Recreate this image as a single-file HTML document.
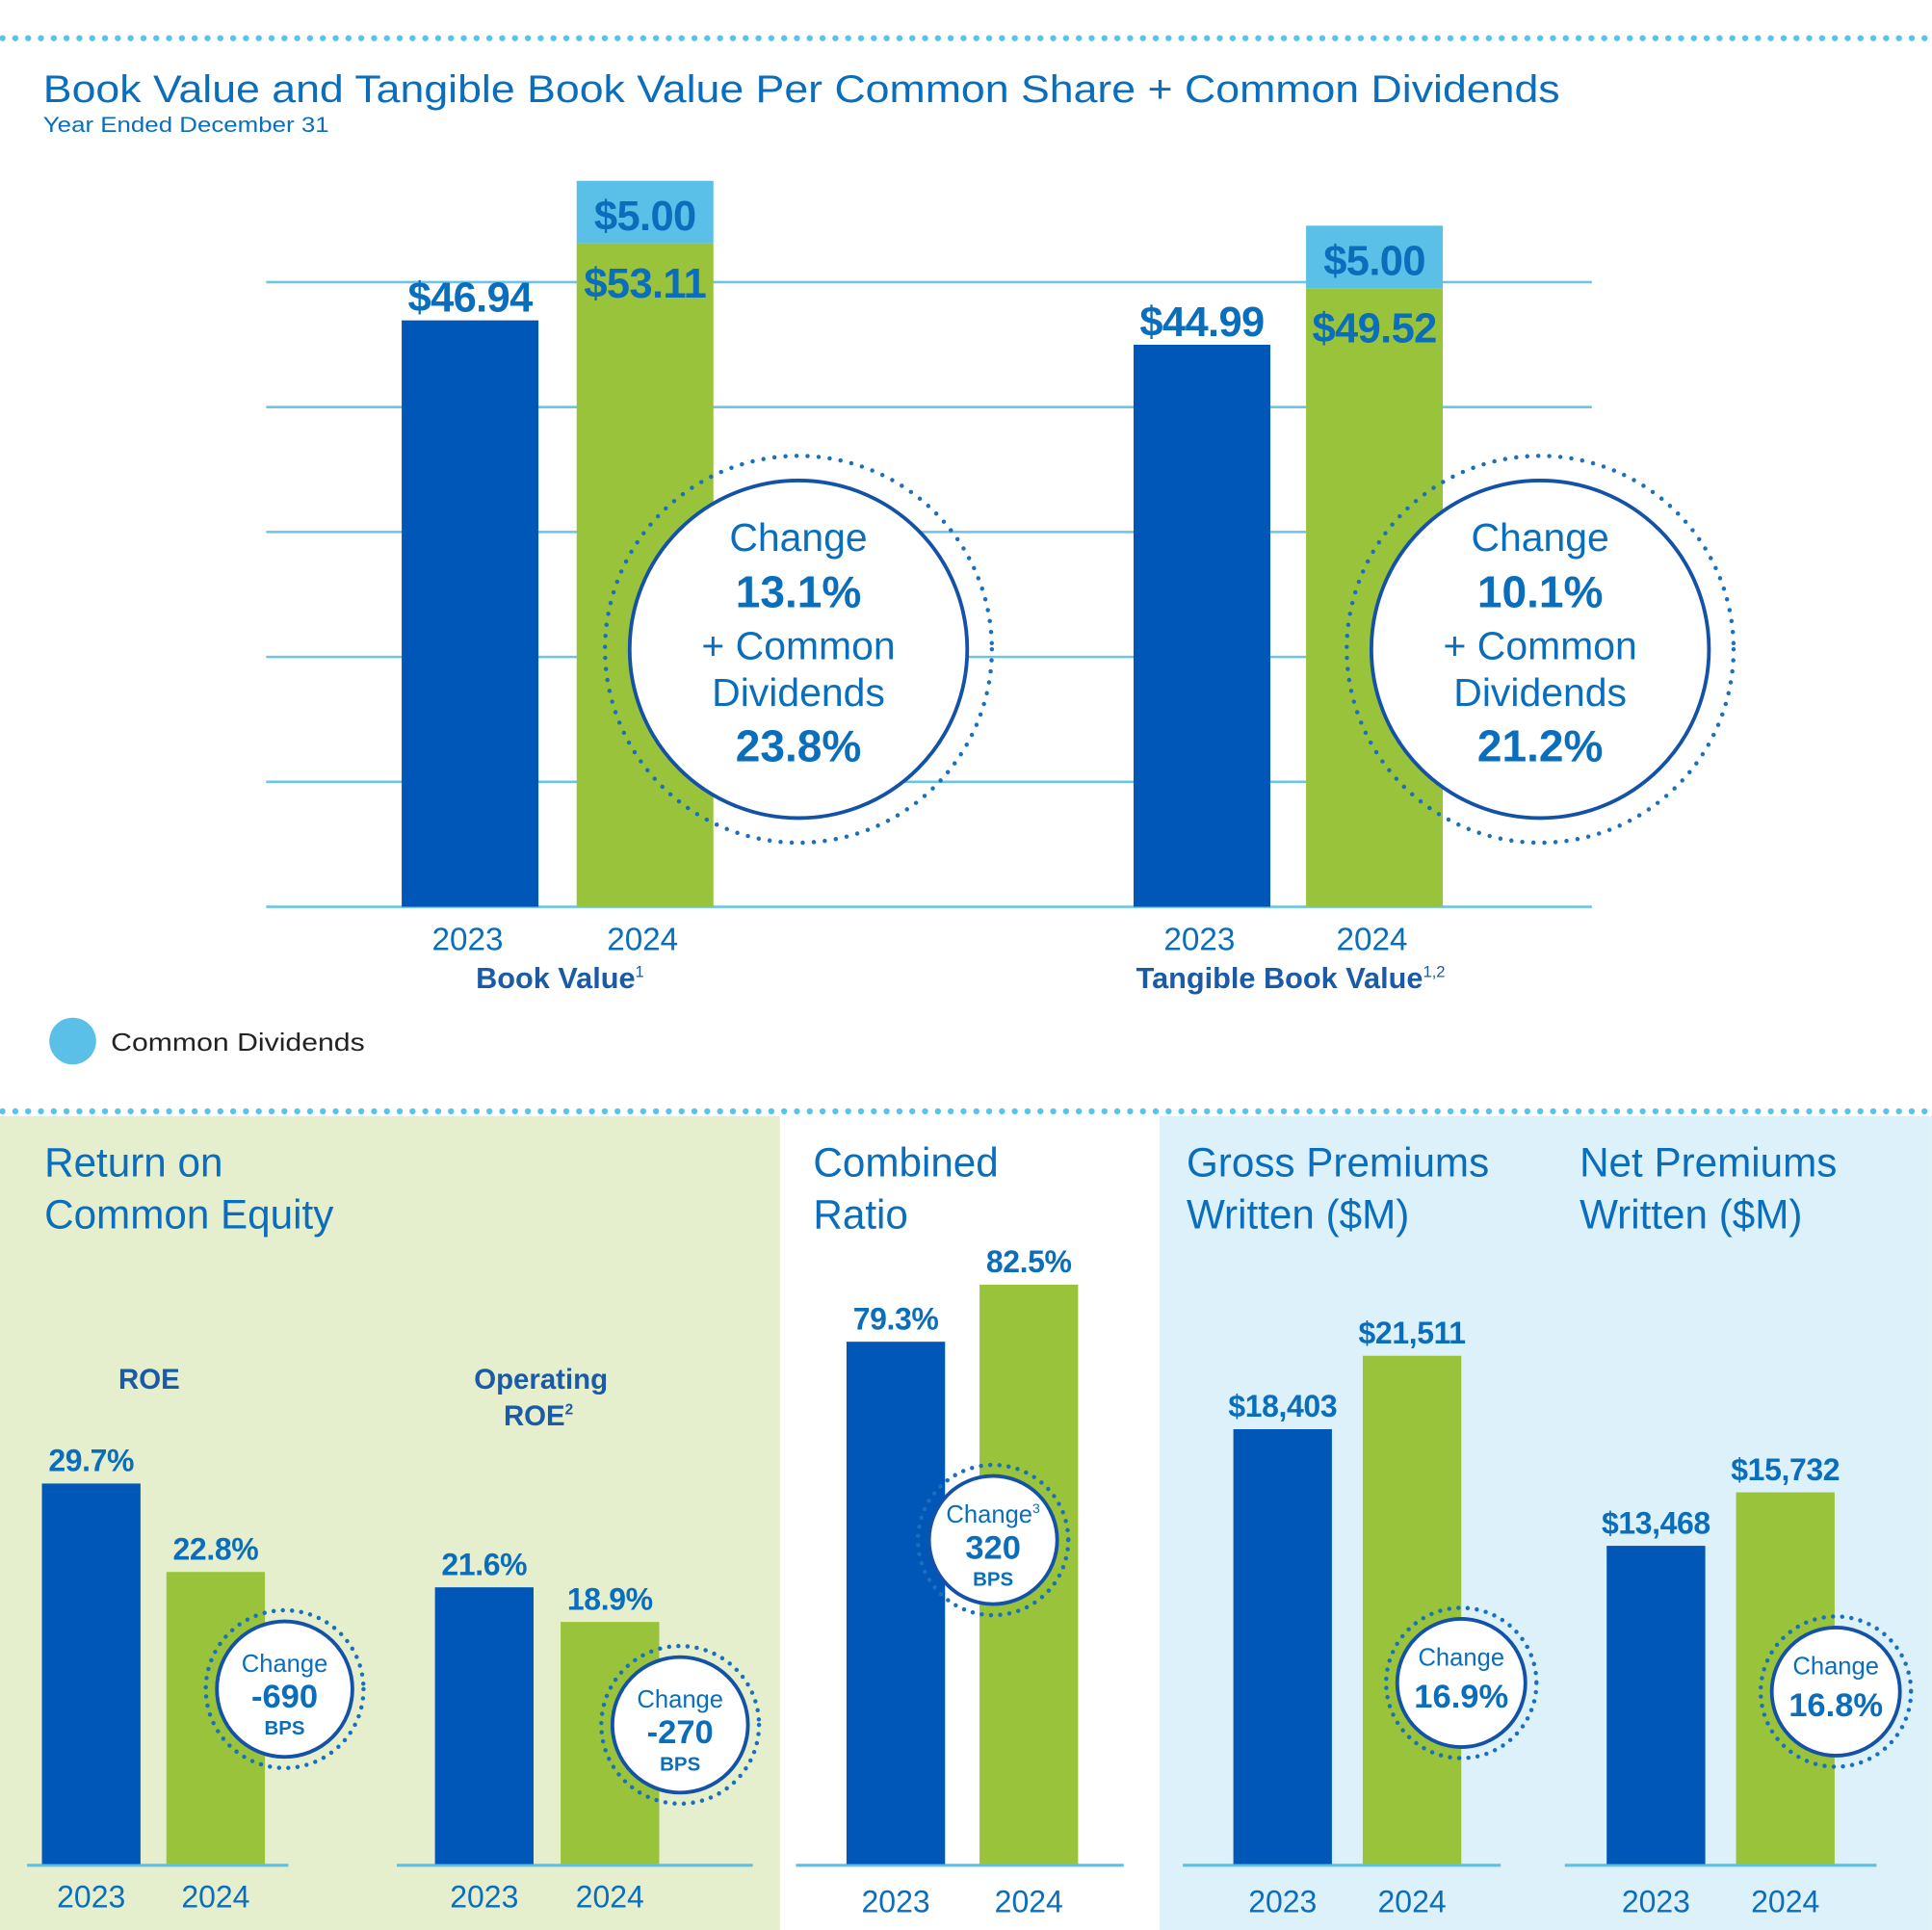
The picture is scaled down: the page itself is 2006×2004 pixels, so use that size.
<!DOCTYPE html>
<html><head><meta charset="utf-8"><style>
html,body{margin:0;padding:0;background:#fff}
svg{display:block}
text{font-family:"Liberation Sans",sans-serif}
</style></head><body>
<svg id="root" width="2006" height="2004" viewBox="0 0 1568 1566.5" xmlns="http://www.w3.org/2000/svg">
<rect x="0" y="906" width="633" height="661" fill="#e5efce"/>
<rect x="941" y="906" width="627" height="661" fill="#dcf1f9"/>
<line x1="2" y1="31" x2="1568" y2="31" stroke="#55c5ec" stroke-width="5" stroke-linecap="round" stroke-dasharray="0 10.4"/>
<line x1="2" y1="902" x2="1568" y2="902" stroke="#55c5ec" stroke-width="5" stroke-linecap="round" stroke-dasharray="0 10.4"/>
<text x="35" y="83" font-size="31" fill="#0a6ebd" textLength="1231" lengthAdjust="spacingAndGlyphs">Book Value and Tangible Book Value Per Common Share + Common Dividends</text>
<text x="35" y="107" font-size="17" fill="#0a6ebd" textLength="232" lengthAdjust="spacingAndGlyphs">Year Ended December 31</text>
<g id="topChart"></g>
<circle cx="59" cy="845" r="19" fill="#5bc0e8"/>
<text x="90" y="853" font-size="20" fill="#222" textLength="206" lengthAdjust="spacingAndGlyphs">Common Dividends</text>
<g id="bottomCharts"></g>
</svg>
<script>
// Top chart data
const topGroups = ['Book Value', 'Tangible Book Value'];
const topYears = ['2023', '2024'];
const bv2023 = [46.94, 44.99];
const bv2024 = [53.11, 49.52];
const dividends2024 = [5.00, 5.00];
const bvLabels2023 = ['$46.94', '$44.99'];
const bvLabels2024 = ['$53.11', '$49.52'];
const divLabels = ['$5.00', '$5.00'];
const topChange = ['13.1%', '10.1%'];
const topChangeWithDiv = ['23.8%', '21.2%'];
const topGridTicks = [0, 10, 20, 30, 40, 50];

// Bottom charts data
const roeValues = [29.7, 22.8];
const opRoeValues = [21.6, 18.9];
const combinedValues = [79.3, 82.5];
const gpwValues = [18403, 21511];
const npwValues = [13468, 15732];
const roeLabels = ['29.7%', '22.8%'];
const opRoeLabels = ['21.6%', '18.9%'];
const combinedLabels = ['79.3%', '82.5%'];
const gpwLabels = ['$18,403', '$21,511'];
const npwLabels = ['$13,468', '$15,732'];

const NS = 'http://www.w3.org/2000/svg';
const BLUE = '#0057b8', GREEN = '#9ac33c', CYAN = '#5bc0e8', TXT = '#0a6ebd', DARK = '#1b5aa6';
function mk(parent, tag, attrs, name) {
  const el = document.createElementNS(NS, tag);
  for (const k in attrs) el.setAttribute(k, attrs[k]);
  
  
  parent.appendChild(el);
  return el;
}
function txt(parent, x, y, s, size, weight, fill, name, anchor) {
  const t = mk(parent, 'text', {x: x, y: y, 'font-size': size, 'font-weight': weight || 'normal', fill: fill, 'text-anchor': anchor || 'middle'}, name);
  t.textContent = s;
  return t;
}

// ---- top chart
const topG = document.getElementById('topChart');
const yTop = v => 736 - v * 10.14;
topGridTicks.forEach((t, i) => {
  mk(topG, 'line', {x1: 216, x2: 1292, y1: yTop(t), y2: yTop(t), stroke: '#6cc4e6', 'stroke-width': 2}, 'gridline-' + t);
});
const groupX = [326, 920];
const groupX2 = [468, 1060];
const topBW = 111;
const catNames = ['Book Value', 'Tangible Book Value'];
const sups = ['1', '1,2'];
const circleCx = [648, 1250];
for (let i = 0; i < 2; i++) {
  const x1 = groupX[i], x2 = groupX2[i];
  mk(topG, 'rect', {x: x1, y: yTop(bv2023[i]), width: topBW, height: yTop(0) - yTop(bv2023[i]), fill: BLUE}, 'bar-2023-' + i);
  mk(topG, 'rect', {x: x2, y: yTop(bv2024[i]), width: topBW, height: yTop(0) - yTop(bv2024[i]), fill: GREEN}, 'bar-2024-' + i);
  mk(topG, 'rect', {x: x2, y: yTop(bv2024[i] + dividends2024[i]), width: topBW, height: yTop(bv2024[i]) - yTop(bv2024[i] + dividends2024[i]), fill: CYAN}, 'bar-dividend-' + i);
  txt(topG, x1 + topBW / 2, yTop(bv2023[i]) - 7, bvLabels2023[i], 34, 'bold', TXT, 'value-label-2023-' + i).setAttribute('letter-spacing', '-0.5');
  txt(topG, x2 + topBW / 2, yTop(bv2024[i]) + 44, bvLabels2024[i], 34, 'bold', TXT, 'value-label-2024-' + i).setAttribute('letter-spacing', '-0.5');
  txt(topG, x2 + topBW / 2, yTop(bv2024[i] + dividends2024[i]) + 40, divLabels[i], 34, 'bold', TXT, 'dividend-label-' + i).setAttribute('letter-spacing', '-0.5');
  txt(topG, x1 + topBW / 2 - 2, 771, topYears[0], 26, 'normal', TXT, 'year-label-2023-' + i);
  txt(topG, x2 + topBW / 2 - 2, 771, topYears[1], 26, 'normal', TXT, 'year-label-2024-' + i);
  const ct = txt(topG, (x1 + x2 + topBW) / 2 + 2, 802, catNames[i], 24, 'bold', DARK, 'category-label-' + i);
  const sp = document.createElementNS(NS, 'tspan');
  sp.setAttribute('font-size', '13'); sp.setAttribute('dy', '-9'); sp.setAttribute('font-weight', 'normal');
  sp.textContent = sups[i];
  ct.appendChild(sp);
  const cx = circleCx[i], cy = 527;
  mk(topG, 'circle', {cx: cx, cy: cy, r: 157, fill: 'none', stroke: '#1a6fbf', 'stroke-width': 3.5, 'stroke-linecap': 'round', 'stroke-dasharray': '0 9'}, 'change-ring-dotted-' + i);
  mk(topG, 'circle', {cx: cx, cy: cy, r: 137, fill: '#fff', stroke: '#1452a8', 'stroke-width': 3}, 'change-circle-' + i);
  txt(topG, cx, 447, 'Change', 32, 'normal', TXT, 'change-title-' + i);
  txt(topG, cx, 493, topChange[i], 36, 'bold', TXT, 'change-value-' + i);
  txt(topG, cx, 535, '+ Common', 32, 'normal', TXT, 'change-plus-common-' + i);
  txt(topG, cx, 573, 'Dividends', 32, 'normal', TXT, 'change-dividends-' + i);
  txt(topG, cx, 618, topChangeWithDiv[i], 36, 'bold', TXT, 'change-total-' + i);
}

// ---- bottom charts
const botG = document.getElementById('bottomCharts');
const BASE = 1513;
function smallChart(cfg) {
  const sc = v => (v - cfg.min) * cfg.k;
  mk(botG, 'line', {x1: cfg.ax1, x2: cfg.ax2, y1: BASE + 1, y2: BASE + 1, stroke: CYAN, 'stroke-width': 2.5}, cfg.id + '-axis');
  cfg.vals.forEach((v, i) => {
    const x = cfg.xs[i], h = sc(v);
    mk(botG, 'rect', {x: x, y: BASE - h, width: 80, height: h, fill: i ? GREEN : BLUE}, cfg.id + '-bar-' + topYears[i]);
    txt(botG, x + 40, BASE - h - 10, cfg.labels[i], 25, 'bold', TXT, cfg.id + '-value-' + topYears[i]).setAttribute('letter-spacing', '-0.3');
    txt(botG, x + 40, cfg.yy, topYears[i], 25, 'normal', TXT, cfg.id + '-year-' + topYears[i]);
  });
  const c = cfg.circ;
  mk(botG, 'circle', {cx: c[0], cy: c[1], r: c[2] + 9, fill: 'none', stroke: '#1a6fbf', 'stroke-width': 3.5, 'stroke-linecap': 'round', 'stroke-dasharray': '0 7.5'}, cfg.id + '-change-ring');
  mk(botG, 'circle', {cx: c[0], cy: c[1], r: c[2], fill: '#fff', stroke: '#1452a8', 'stroke-width': 3}, cfg.id + '-change-circle');
  const t = txt(botG, c[0], c[1] - 14, 'Change', 20, 'normal', TXT, cfg.id + '-change-title');
  if (cfg.sup) { const sp = document.createElementNS(NS, 'tspan'); sp.setAttribute('font-size', '11'); sp.setAttribute('dy', '-8'); sp.textContent = cfg.sup; t.appendChild(sp); }
  txt(botG, c[0], c[1] + (cfg.bps ? 15 : 20), cfg.change, 27, 'bold', TXT, cfg.id + '-change-value');
  if (cfg.bps) txt(botG, c[0], c[1] + 37, 'BPS', 16, 'bold', TXT, cfg.id + '-change-bps');
}
smallChart({id: 'roe', vals: roeValues, labels: roeLabels, min: 0, k: 10.4, xs: [34, 135], ax1: 22, ax2: 234, yy: 1548, circ: [231, 1371, 55], change: '-690', bps: true});
smallChart({id: 'op-roe', vals: opRoeValues, labels: opRoeLabels, min: 0, k: 10.4, xs: [353, 455], ax1: 322, ax2: 611, yy: 1548, circ: [552, 1400, 55], change: '-270', bps: true});
smallChart({id: 'combined', vals: combinedValues, labels: combinedLabels, min: 50, k: 14.47, xs: [687, 795], ax1: 646, ax2: 912, yy: 1552, circ: [806, 1250, 52], change: '320', bps: true, sup: '3'});
smallChart({id: 'gpw', vals: gpwValues, labels: gpwLabels, min: 0, k: 0.01918, xs: [1001, 1106], ax1: 960, ax2: 1218, yy: 1552, circ: [1186, 1366, 52], change: '16.9%', bps: false});
smallChart({id: 'npw', vals: npwValues, labels: npwLabels, min: 0, k: 0.01918, xs: [1304, 1409], ax1: 1270, ax2: 1523, yy: 1552, circ: [1490, 1373, 52], change: '16.8%', bps: false});

// titles
txt(botG, 36, 955, 'Return on', 33, 'normal', TXT, 'roe-section-title-line1', 'start');
txt(botG, 36, 997, 'Common Equity', 33, 'normal', TXT, 'roe-section-title-line2', 'start');
txt(botG, 660, 955, 'Combined', 33, 'normal', TXT, 'combined-title-line1', 'start');
txt(botG, 660, 997, 'Ratio', 33, 'normal', TXT, 'combined-title-line2', 'start');
txt(botG, 963, 955, 'Gross Premiums', 33, 'normal', TXT, 'gpw-title-line1', 'start');
txt(botG, 963, 997, 'Written ($M)', 33, 'normal', TXT, 'gpw-title-line2', 'start');
txt(botG, 1282, 955, 'Net Premiums', 33, 'normal', TXT, 'npw-title-line1', 'start');
txt(botG, 1282, 997, 'Written ($M)', 33, 'normal', TXT, 'npw-title-line2', 'start');
txt(botG, 121, 1127, 'ROE', 23, 'bold', DARK, 'roe-label');
txt(botG, 439, 1127, 'Operating', 23, 'bold', DARK, 'op-roe-label-line1');
const op2 = txt(botG, 437, 1157, 'ROE', 23, 'bold', DARK, 'op-roe-label-line2');
const s2 = document.createElementNS(NS, 'tspan'); s2.setAttribute('font-size', '12'); s2.setAttribute('dy', '-9'); s2.textContent = '2'; op2.appendChild(s2);
</script>
</body></html>
